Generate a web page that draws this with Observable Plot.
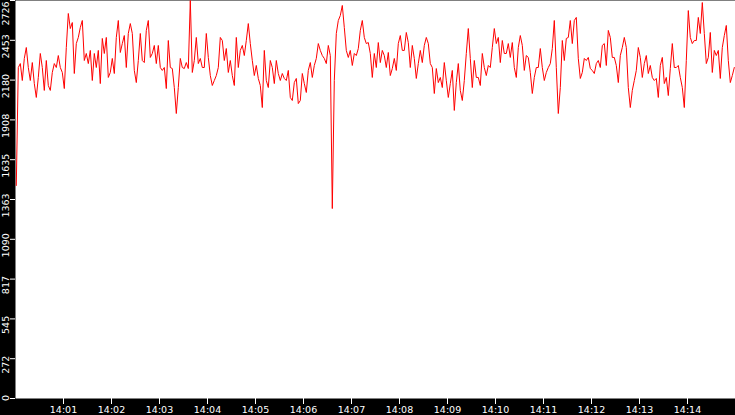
<!DOCTYPE html>
<html><head><meta charset="utf-8">
<script src="https://cdn.jsdelivr.net/npm/d3@7"></script>
<script src="https://cdn.jsdelivr.net/npm/@observablehq/plot@0.6"></script>
<style>html,body{margin:0;padding:0;background:#000;overflow:hidden}</style>
</head><body><div id="chart"></div>
<script>
// Sampled every 2.5 s starting at 14:00:01
const seg1 = [1459,2267,2294,2178,2329,2404,2267,2178,2301,2157,2062,2199,2363,2267,2110,2315,2144,2110,2233,2294,2267,2349,2267,2233,2123,2404,2637,2534,2575,2226,2431,2473,2541,2589,2315,2363,2294,2384,2178,2363,2267,2384,2157,2466,2363];
const seg2 = [2473,2199,2233,2329,2226,2473,2589,2370,2431,2486,2267,2500,2568,2500,2247,2164,2315,2500,2315,2301,2521,2589,2336,2363,2418,2294,2418,2267,2247,2267,2123,2452,2267,2260,2130,1952,2130,2329,2267,2260,2301,2260,2726,2233,2315];
const seg3 = [2473,2294,2329,2267,2267,2500,2336,2212,2144,2178,2212,2267,2473,2452,2315,2397,2233,2315,2212,2144,2473,2267,2384,2418,2349,2452,2568,2431,2315,2212,2281,2192,2144,1993,2384,2178,2130,2315,2267,2157,2315,2226,2178,2226,2192];
const seg4 = [2178,2247,2062,2041,2164,2192,2020,2041,2226,2157,2096,2247,2301,2199,2281,2329,2431,2384,2349,2329,2294,2418,2349,1301,2178,2500,2589,2623,2692,2541,2384,2336,2384,2281,2363,2349,2397,2521,2589,2473,2431,2438,2363,2199,2363];
const seg5 = [2267,2438,2301,2384,2349,2267,2370,2212,2260,2329,2247,2431,2486,2384,2384,2507,2438,2267,2418,2329,2192,2294,2384,2301,2418,2473,2431,2294,2267,2089,2260,2164,2199,2130,2301,2178,2062,2157,2247,1973,2164,2294,2110,2041,2178];
const seg6 = [2363,2534,2329,2130,2315,2199,2199,2144,2363,2267,2212,2281,2267,2404,2534,2431,2473,2301,2452,2363,2363,2431,2336,2438,2267,2199,2404,2486,2418,2247,2349,2336,2233,2089,2199,2267,2267,2397,2267,2178,2233,2267,2294,2397,2589];
const seg7 = [2267,1952,2130,2452,2315,2466,2473,2589,2431,2589,2610,2329,2192,2233,2329,2315,2336,2260,2247,2226,2294,2315,2267,2418,2431,2281,2521,2473,2336,2336,2281,2164,2349,2404,2473,2404,2130,1993,2110,2178,2247,2404,2336,2199,2294];
const seg8 = [2349,2226,2281,2199,2178,2192,2062,2281,2336,2157,2199,2075,2260,2431,2267,2267,2281,2199,2130,1993,2315,2657,2473,2431,2452,2452,2610,2500,2712,2500,2294,2336,2507,2233,2384,2349,2384,2192,2404,2486,2555,2315,2164,2212,2267];

const startTime = "2000-01-01T14:00:01Z";
const stepSeconds = 2.5;
const xDomain = ["2000-01-01T14:00:00Z", "2000-01-01T14:15:00Z"];
const xTickLabels = ["14:01","14:02","14:03","14:04","14:05","14:06","14:07","14:08","14:09","14:10","14:11","14:12","14:13","14:14"];
const yTickValues = [0, 272.6, 545.2, 817.8, 1090.4, 1363, 1635.6, 1908.2, 2180.8, 2453.4, 2726];
const yTickLabels = ["0","272","545","817","1090","1363","1635","1908","2180","2453","2726"];
const yMax = 2726;

const values = [].concat(seg1, seg2, seg3, seg4, seg5, seg6, seg7, seg8);
const t0 = new Date(startTime).getTime();
const data = values.map((v, i) => ({t: new Date(t0 + i * stepSeconds * 1000), v}));
const xTicks = xTickLabels.map(s => new Date(`2000-01-01T${s}:00Z`));
const yLabels = yTickValues.map((v, i) => ({v, label: yTickLabels[i], i}));
const last = yLabels.length - 1;
const fmt = d3.utcFormat("%H:%M");

const labelStyle = {y: "v", text: "label", frameAnchor: "left", dx: -9.5, rotate: -90,
  textAnchor: "middle", lineAnchor: "middle", fill: "white"};

const plot = Plot.plot({
  width: 735, height: 415,
  marginLeft: 15, marginRight: 0, marginTop: 0, marginBottom: 17,
  style: {background: "#000", fontFamily: "DejaVu Sans", fontSize: "9.5px", color: "white", overflow: "hidden"},
  x: {type: "utc", domain: xDomain.map(d => new Date(d))},
  y: {domain: [0, yMax]},
  marks: [
    Plot.frame({fill: "white", stroke: null}),
    Plot.line(data, {x: "t", y: "v", stroke: "#ff0000", strokeWidth: 1}),
    Plot.axisX({ticks: xTicks, tickSize: 6, tickPadding: 2, tickFormat: fmt, color: "white", label: null}),
    Plot.axisY({ticks: yTickValues, tickSize: 5, tickFormat: () => "", color: "white", label: null}),
    Plot.text(yLabels.filter(d => d.i > 0 && d.i < last), {...labelStyle, dy: 6}),
    Plot.text(yLabels.filter(d => d.i === last), {...labelStyle, dy: 13}),
    Plot.text(yLabels.filter(d => d.i === 0), {...labelStyle, dy: -0.5})
  ]
});
document.getElementById("chart").appendChild(plot);
</script>
</body></html>
